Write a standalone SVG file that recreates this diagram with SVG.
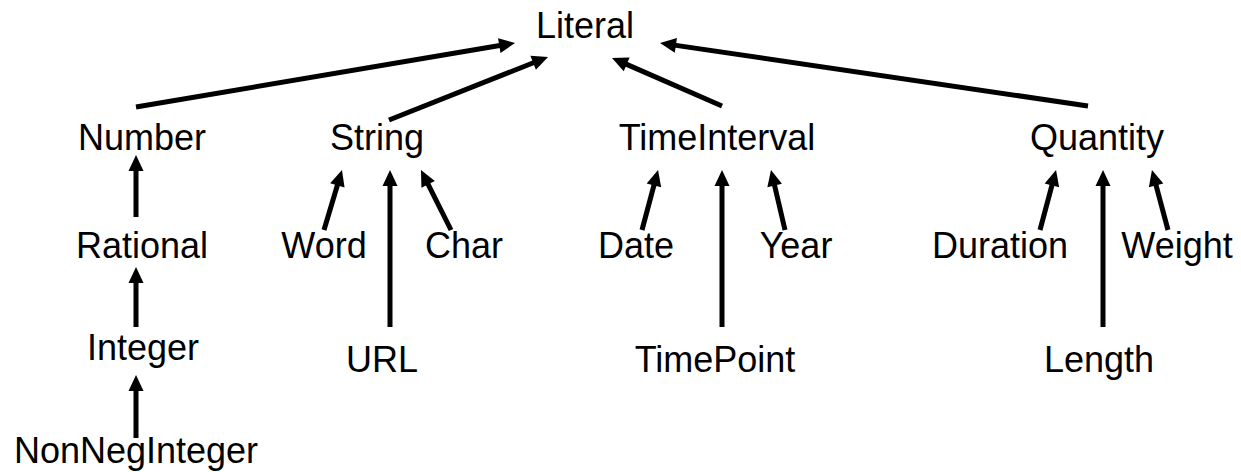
<svg xmlns="http://www.w3.org/2000/svg" width="1241" height="472" viewBox="0 0 1241 472">
<style>
text{font-family:"Liberation Sans",Arial,sans-serif;font-size:36px;fill:#000;text-anchor:middle}
.c line{stroke:#000;stroke-width:5;marker-end:url(#ah)}
</style>
<defs>
<marker id="ah" markerUnits="userSpaceOnUse" markerWidth="18" markerHeight="16" refX="5" refY="7.5" orient="auto" overflow="visible">
<path d="M0,0 L16,7.5 L0,15 z" fill="#000"/>
</marker>
</defs>
<rect width="1241" height="472" fill="#fff"/>
<g id="connectors" class="c">
<line x1="136" y1="107" x2="504.2" y2="44.8"/>
<line x1="389" y1="120" x2="537.8" y2="61"/>
<line x1="722" y1="106" x2="622.1" y2="62.4"/>
<line x1="1088" y1="106" x2="670.9" y2="44.6"/>
<line x1="136" y1="217" x2="136" y2="166"/>
<line x1="136" y1="327" x2="136" y2="278"/>
<line x1="136" y1="438" x2="136" y2="386"/>
<line x1="324" y1="230" x2="338.8" y2="180.5"/>
<line x1="390" y1="327" x2="390" y2="181"/>
<line x1="451" y1="230" x2="425.9" y2="179.8"/>
<line x1="642" y1="230" x2="655.2" y2="180.6"/>
<line x1="722" y1="327" x2="722" y2="181"/>
<line x1="785" y1="230" x2="773.5" y2="180.7"/>
<line x1="1040" y1="230" x2="1053.2" y2="180.6"/>
<line x1="1103" y1="327" x2="1103" y2="181"/>
<line x1="1168" y1="230" x2="1154.8" y2="180.6"/>
</g>
<g id="literal"><text x="585" y="38">Literal</text></g>
<g id="number"><text x="142" y="150">Number</text></g>
<g id="string"><text x="377" y="150">String</text></g>
<g id="timeinterval"><text x="717" y="150">TimeInterval</text></g>
<g id="quantity"><text x="1097" y="150">Quantity</text></g>
<g id="rational"><text x="142" y="258">Rational</text></g>
<g id="word"><text x="324" y="258">Word</text></g>
<g id="char"><text x="464" y="258">Char</text></g>
<g id="date"><text x="636" y="258">Date</text></g>
<g id="year"><text x="796" y="258">Year</text></g>
<g id="duration"><text x="1000" y="258">Duration</text></g>
<g id="weight"><text x="1177" y="258">Weight</text></g>
<g id="integer"><text x="143" y="360">Integer</text></g>
<g id="url"><text x="382" y="372">URL</text></g>
<g id="timepoint"><text x="715" y="372">TimePoint</text></g>
<g id="length"><text x="1099" y="372">Length</text></g>
<g id="nonneginteger"><text x="136" y="463">NonNegInteger</text></g>
</svg>
